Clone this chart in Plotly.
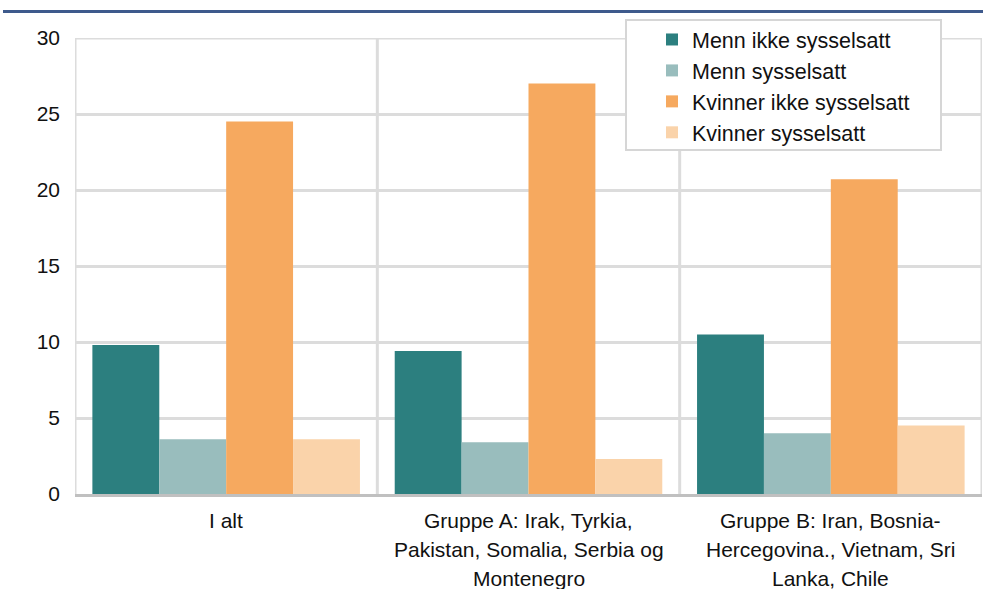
import plotly.graph_objects as go

categories = ["I alt",
              "Gruppe A: Irak, Tyrkia,<br>Pakistan, Somalia, Serbia og<br>Montenegro",
              "Gruppe B: Iran, Bosnia-<br>Hercegovina., Vietnam, Sri<br>Lanka, Chile"]
series_names = ["Menn ikke sysselsatt", "Menn sysselsatt",
                "Kvinner ikke sysselsatt", "Kvinner sysselsatt"]
menn_ikke = [9.8, 9.4, 10.5]
menn_syss = [3.6, 3.4, 4.0]
kvinner_ikke = [24.5, 27.0, 20.7]
kvinner_syss = [3.6, 2.3, 4.5]
colors = ["#2c7f7f", "#99bdbd", "#f6a95f", "#fad3aa"]
y_ticks = [0, 5, 10, 15, 20, 25, 30]

FONT = "Liberation Sans, Arial, sans-serif"
W, H = 983, 589
L, R, T, B = 75, 1, 38, 95
pw, ph = W - L - R, H - T - B
GRID = "#dcdcdc"

def px(x):
    return (x - L) / pw

def py(y):
    return (H - B - y) / ph

xs = list(range(len(categories)))
fig = go.Figure()
for i, (name, vals) in enumerate(zip(series_names, [menn_ikke, menn_syss, kvinner_ikke, kvinner_syss])):
    fig.add_trace(go.Bar(x=xs, y=vals, name=name, marker=dict(color=colors[i], line=dict(width=0)),
                         legendgroup=f"g{i}"))

annotations = []
for xi, lab in zip(xs, categories):
    for j, line in enumerate(lab.split("<br>")):
        annotations.append(dict(x=xi, xref="x", y=0, yref="paper", text=line, showarrow=False,
                                yanchor="middle", xanchor="center", yshift=-(26 + 29 * j),
                                font=dict(family=FONT, size=21, color="#111111")))

shapes = []
for b in [-0.5, 0.5, 1.5, 2.5]:
    shapes.append(dict(type="line", xref="x", yref="paper", x0=b, x1=b, y0=0, y1=1,
                       line=dict(color=GRID, width=3), layer="below"))
shapes.append(dict(type="line", xref="paper", yref="y", x0=0, x1=1, y0=30, y1=30,
                   line=dict(color=GRID, width=3), layer="below"))
shapes += [
    dict(type="rect", xref="paper", yref="paper", x0=px(626), x1=px(941), y0=py(150), y1=py(20),
         line=dict(color="#d6d6d6", width=2), fillcolor="white", layer="above"),
    dict(type="line", xref="paper", yref="paper", x0=px(3), x1=px(983), y0=py(11.5), y1=py(11.5),
         line=dict(color="#3e5a8c", width=3)),
]

fig.update_layout(
    width=W, height=H,
    margin=dict(l=L, r=R, t=T, b=B, pad=0, autoexpand=False),
    paper_bgcolor="white", plot_bgcolor="white",
    barmode="group", bargap=0.115, bargroupgap=0,
    font=dict(family=FONT, size=21, color="#111111"),
    showlegend=True,
    legend=dict(xref="container", yref="container", x=652 / W, y=1 - 19 / H,
                xanchor="left", yanchor="top",
                bgcolor="rgba(0,0,0,0)", borderwidth=0, tracegroupgap=0,
                font=dict(family=FONT, size=21.5, color="#111111")),
    xaxis=dict(type="linear", range=[-0.5, 2.5], showticklabels=False, automargin=False,
               showgrid=False, zeroline=False,
               showline=True, linecolor="#c0c0c0", linewidth=3, ticks=""),
    yaxis=dict(range=[0, 30], tickvals=y_ticks, showgrid=True, gridcolor=GRID, gridwidth=3,
               automargin=False, zeroline=False, showline=False, ticks="", ticklabelstandoff=14,
               tickfont=dict(family=FONT, size=21, color="#111111")),
    annotations=annotations,
    shapes=shapes,
)
fig.write_html("out.html", config={"displayModeBar": False},
               post_script="document.body.style.margin='0';")
